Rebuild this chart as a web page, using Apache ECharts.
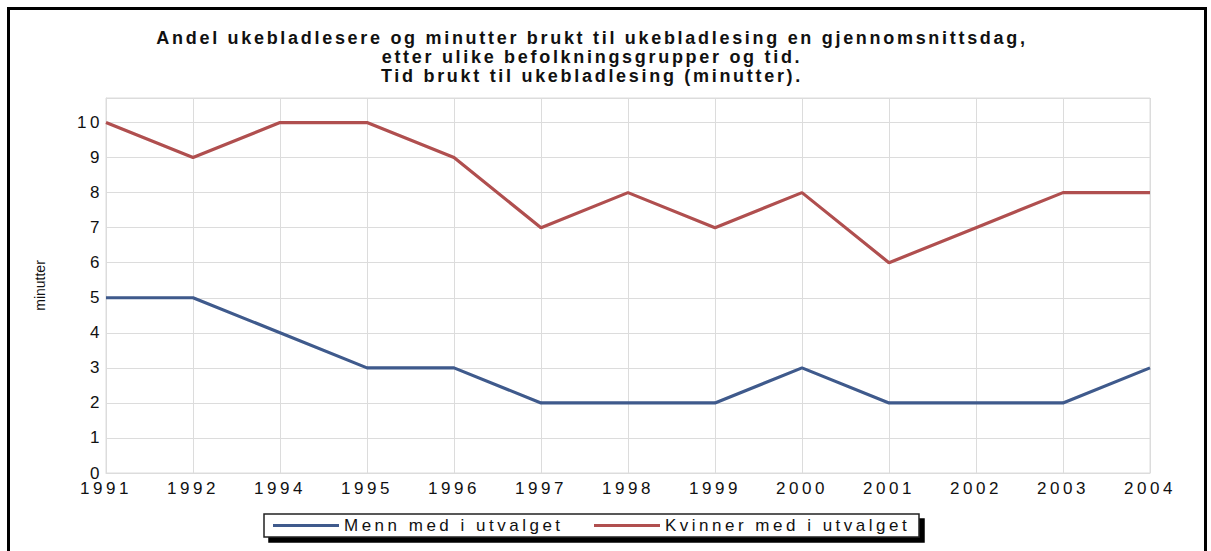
<!DOCTYPE html>
<html>
<head>
<meta charset="utf-8">
<script src="https://cdn.jsdelivr.net/npm/echarts@6/dist/echarts.min.js"></script>
<style>
  html, body { margin: 0; padding: 0; background: #fff; }
  #chart { width: 1211px; height: 551px; }
  #chart text { letter-spacing: 3.5px; }
</style>
</head>
<body>
<div id="chart"></div>
<script>
// Minutes spent reading weekly magazines on an average day
const years = ['1991', '1992', '1994', '1995', '1996', '1997', '1998', '1999', '2000', '2001', '2002', '2003', '2004'];
const menn = [5, 5, 4, 3, 3, 2, 2, 2, 3, 2, 2, 2, 3];
const kvinner = [10, 9, 10, 10, 9, 7, 8, 7, 8, 6, 7, 8, 8];
const yTicks = [0, 1, 2, 3, 4, 5, 6, 7, 8, 9, 10];
const seriesNames = ['Menn med i utvalget', 'Kvinner med i utvalget'];
const titleLines = [
  'Andel ukebladlesere og minutter brukt til ukebladlesing en gjennomsnittsdag,',
  'etter ulike befolkningsgrupper og tid.',
  'Tid brukt til ukebladlesing (minutter).'
];
const axisName = 'minutter';

const FONT = "'Liberation Sans', Arial, sans-serif";
const chart = echarts.init(document.getElementById('chart'), null, { renderer: 'svg' });

chart.setOption({
  animation: false,
  backgroundColor: '#fff',
  title: {
    text: titleLines.join('\n'),
    left: 592,
    top: 28,
    padding: 0,
    textAlign: 'center',
    textStyle: { fontFamily: FONT, fontSize: 18, fontWeight: 'bold', color: '#111', lineHeight: 19 }
  },
  graphic: [{
    type: 'rect',
    shape: { x: 8.5, y: 8.5, width: 1197, height: 620 },
    style: { fill: 'none', stroke: '#000', lineWidth: 3 },
    silent: true
  }],
  grid: {
    left: 106, right: 61, top: 98, bottom: 78,
    show: true, borderColor: '#dcdcdc', borderWidth: 1, containLabel: false
  },
  legend: {
    data: seriesNames,
    left: 264, top: 514,
    padding: [3, 10, 3, 9],
    itemWidth: 66, itemHeight: 3, itemGap: 28,
    icon: 'rect',
    backgroundColor: '#fff',
    borderColor: '#222', borderWidth: 1.5,
    shadowColor: '#000', shadowBlur: 0, shadowOffsetX: 5, shadowOffsetY: 5,
    formatter: name => (name === seriesNames[0] ? '{m|' : '{k|') + name + '}',
    textStyle: {
      fontFamily: FONT, fontSize: 17, color: '#111', lineHeight: 16,
      rich: { m: { width: 222 }, k: { width: 244 } }
    }
  },
  xAxis: {
    type: 'category',
    data: years,
    boundaryGap: false,
    axisLine: { lineStyle: { color: '#dcdcdc', width: 1 } },
    axisTick: { show: false },
    splitLine: { show: true, lineStyle: { color: '#dcdcdc', width: 1 } },
    axisLabel: { fontFamily: FONT, fontSize: 17, color: '#111', margin: 7, interval: 0 }
  },
  yAxis: {
    type: 'value',
    min: 0, max: 10.7, interval: 1,
    name: axisName,
    nameLocation: 'middle',
    nameRotate: 90,
    nameGap: 59,
    nameTextStyle: { fontFamily: FONT, fontSize: 14, color: '#111' },
    axisLine: { show: true, lineStyle: { color: '#dcdcdc', width: 1 } },
    axisTick: { show: false },
    splitLine: { show: true, lineStyle: { color: '#dcdcdc', width: 1 } },
    axisLabel: {
      fontFamily: FONT, fontSize: 17, color: '#111', margin: 3,
      formatter: v => (yTicks.includes(v) ? String(v) : '')
    }
  },
  series: [
    {
      name: seriesNames[0], type: 'line', data: menn,
      symbol: 'none', lineStyle: { color: '#3f5a8c', width: 3.2 }, itemStyle: { color: '#3f5a8c' }
    },
    {
      name: seriesNames[1], type: 'line', data: kvinner,
      symbol: 'none', lineStyle: { color: '#b04f4f', width: 3.2 }, itemStyle: { color: '#b04f4f' }
    }
  ]
});

// Title lines are spaced tighter and the axis name is unspaced
function tuneSpacing() {
  document.querySelectorAll('#chart text').forEach(t => {
    const s = t.textContent;
    if (titleLines.includes(s)) t.style.letterSpacing = '2.7px';
    else if (s === axisName) t.style.letterSpacing = '0px';
  });
}
chart.on('finished', tuneSpacing);
tuneSpacing();
setTimeout(tuneSpacing, 50);
</script>
</body>
</html>
